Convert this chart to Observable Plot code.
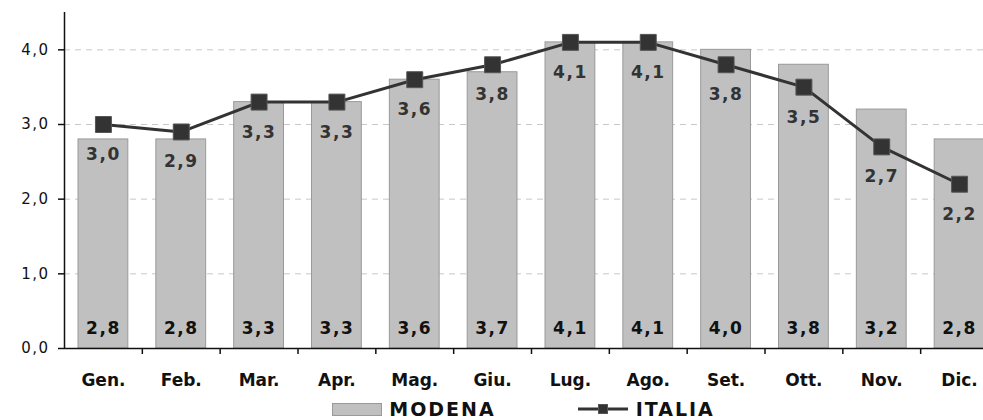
<!DOCTYPE html>
<html>
<head>
<meta charset="utf-8">
<script src="https://cdn.jsdelivr.net/npm/d3@7"></script>
<script src="https://cdn.jsdelivr.net/npm/@observablehq/plot@0.6"></script>
<style>
  html, body { margin: 0; padding: 0; background: #fff; }
  #chart svg { display: block; }
  g[aria-label="text"] text { letter-spacing: 1.5px; }
  g[aria-label="y-axis tick label"] text { letter-spacing: 1.5px; }
  #legend { display: flex; align-items: center; justify-content: center; padding-left: 64px; height: 24px; margin-top: 2px;
            font: bold 19px "DejaVu Sans", sans-serif; letter-spacing: 2px; color: #111; }
  .sw1 { display: inline-block; width: 48px; height: 11px; background: #c0c0c0; border: 1px solid #9a9a9a; margin-right: 7px; }
  .gap { display: inline-block; width: 82px; }
</style>
</head>
<body>
<div id="chart"></div>
<div id="legend">
  <span class="sw1"></span><span>MODENA</span><span class="gap"></span>
  <svg width="50" height="14" style="margin-right:8px"><line x1="0" y1="7" x2="50" y2="7" stroke="#333" stroke-width="3"/><rect x="20.5" y="2.5" width="9" height="9" fill="#333" stroke="#555"/></svg><span>ITALIA</span>
</div>
<script>
const months = ["Gen.", "Feb.", "Mar.", "Apr.", "Mag.", "Giu.", "Lug.", "Ago.", "Set.", "Ott.", "Nov.", "Dic."];
const modena = [2.8, 2.8, 3.3, 3.3, 3.6, 3.7, 4.1, 4.1, 4.0, 3.8, 3.2, 2.8];
const italia = [3.0, 2.9, 3.3, 3.3, 3.6, 3.8, 4.1, 4.1, 3.8, 3.5, 2.7, 2.2];
const yTicks = [0, 1, 2, 3, 4];
const gridTicks = [1, 2, 3, 4];

const data = months.map((m, i) => ({m, modena: modena[i], italia: italia[i]}));
const fmt = d => d.toFixed(1).replace(".", ",");

const xRange = [64, 998];
const step = (xRange[1] - xRange[0]) / months.length;

const chart = Plot.plot({
  width: 983,
  height: 395,
  marginLeft: 64,
  marginRight: 0,
  marginTop: 12,
  marginBottom: 47,
  style: {fontFamily: "DejaVu Sans, sans-serif", background: "#fff", color: "#111"},
  x: {domain: months, range: xRange, paddingInner: 0.36, paddingOuter: 0.18, round: false},
  y: {domain: [0, 4.5]},
  marks: [
    Plot.ruleY(gridTicks, {stroke: "#c8c8c8", strokeDasharray: "6,5", strokeWidth: 1}),
    Plot.barY(data, {x: "m", y: "modena", fill: "#c0c0c0", stroke: "#9a9a9a", strokeWidth: 1}),
    Plot.ruleY([0], {stroke: "#111", strokeWidth: 1.5}),
    Plot.ruleX([months[0]], {dx: -step / 2, stroke: "#111", strokeWidth: 1.5}),
    Plot.ruleX(months.slice(1), {y1: 0, y2: 0, insetBottom: -6, dx: -step / 2, stroke: "#111", strokeWidth: 1.5}),
    Plot.axisX({tickSize: 0, tickPadding: 25, fontWeight: "bold", fontSize: 17, label: null}),
    Plot.axisY({ticks: yTicks, tickSize: 6, tickPadding: 9, tickFormat: fmt, fontSize: 15, label: null, stroke: "#111", strokeWidth: 1.5}),
    Plot.line(data, {x: "m", y: "italia", stroke: "#333", strokeWidth: 3}),
    Plot.dot(data, {x: "m", y: "italia", symbol: "square", r: 9, fill: "#333", stroke: "#555", strokeWidth: 1}),
    Plot.text(data, {x: "m", y: "italia", text: d => fmt(d.italia), dy: 30, fill: "#333", fontWeight: "bold", fontSize: 17}),
    Plot.text(data, {x: "m", y: 0, text: d => fmt(d.modena), dy: -20, fill: "#111", fontWeight: "bold", fontSize: 17})
  ]
});
document.getElementById("chart").appendChild(chart);
</script>
</body>
</html>
